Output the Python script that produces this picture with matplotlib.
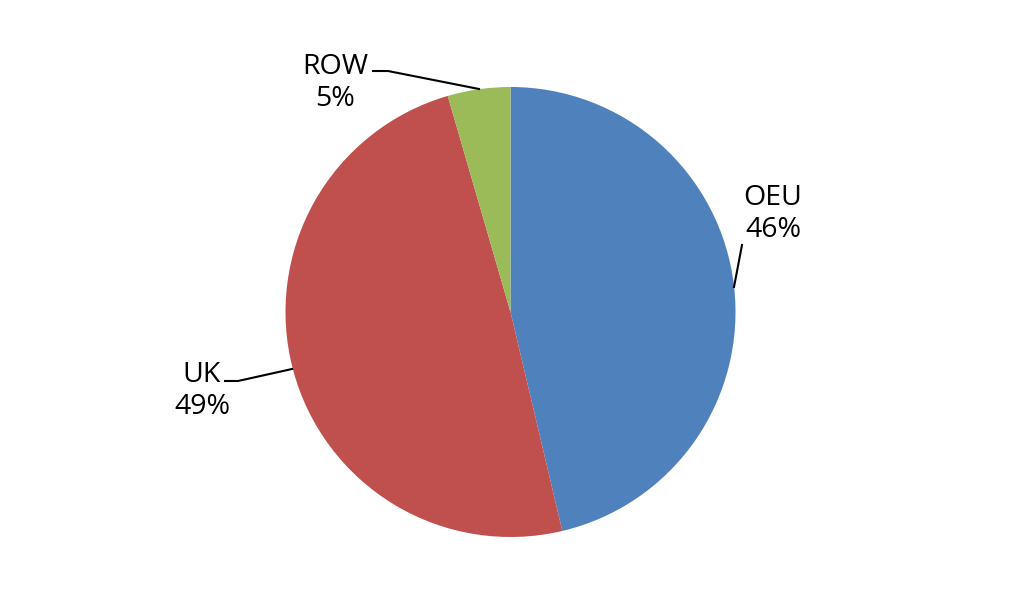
import matplotlib
matplotlib.use("Agg")
import matplotlib.pyplot as plt

# Datos (sentido horario desde arriba)
regions = ["OEU", "UK", "ROW"]
shares = [46.3, 49.2, 4.5]
colors = ["#4F81BD", "#C0504D", "#9BBB59"]

plt.rcParams['font.family'] = ['Open Sans', 'DejaVu Sans']

W, H = 1024, 614
cx, cy, r = 510.5, 312, 225  # centro y radio en pixeles

def px(x, y):
    # pixeles de la imagen -> coordenadas de datos (radio = 1)
    return (x - cx) / r, (cy - y) / r

fig = plt.figure(figsize=(W / 100, H / 100), dpi=100)
ax = fig.add_axes([0, 0, 1, 1])
ax.pie(shares, colors=colors, startangle=90, counterclock=False,
       radius=1, center=(0, 0), wedgeprops=dict(linewidth=0))
ax.set_xlim(-cx / r, (W - cx) / r)
ax.set_ylim(-(H - cy) / r, cy / r)
ax.set_aspect('equal')
ax.axis('off')

# posicion de etiquetas y lineas guia (pixeles)
label_pos = {"OEU": (773, 214), "UK": (202, 391), "ROW": (335, 83)}
leaders = {
    "OEU": [(742, 245), (734, 287)],
    "UK": [(225, 381), (238, 381), (292, 369)],
    "ROW": [(373, 71), (388, 71), (479, 89)],
}

for name, val in zip(regions, shares):
    x, y = px(*label_pos[name])
    ax.text(x, y, f"{name}\n{int(val + 0.5)}%", ha='center', va='center',
            fontsize=20.5, color='black', linespacing=1.22)
    pts = [px(*p) for p in leaders[name]]
    ax.plot([p[0] for p in pts], [p[1] for p in pts], color='black', lw=1.5)

fig.savefig("out.png", dpi=100, facecolor='white')
